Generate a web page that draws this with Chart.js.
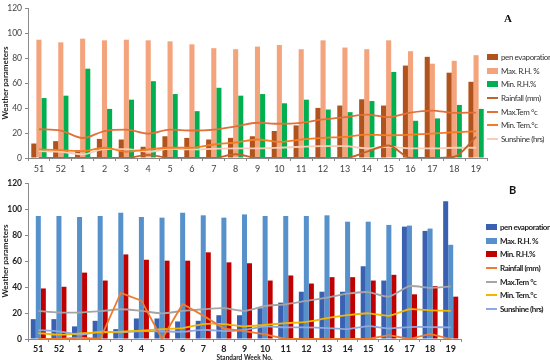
<!DOCTYPE html>
<html>
<head>
<meta charset="utf-8">
<script src="https://cdn.jsdelivr.net/npm/chart.js@4.4.1/dist/chart.umd.min.js"></script>
<style>
  body { margin: 0; background: #fff; width: 550px; height: 363px; position: relative; overflow: hidden; font-family: Lato, "Noto Sans", sans-serif; }
  canvas { position: absolute; left: 0; }
  #chartA { top: 0; }
  #chartB { top: 175px; }
  .tag { position: absolute; font-weight: bold; color: #111; }
  .legend { position: absolute; font-size: 8px; letter-spacing: -0.4px; color: #333; }
  .legend .item { height: 13.7px; display: flex; align-items: center; white-space: nowrap; }
  .legend .sw { display: inline-block; width: 11px; margin-right: 3px; flex: none; }
</style>
</head>
<body>
<canvas id="chartA" width="550" height="175"></canvas>
<canvas id="chartB" width="550" height="188"></canvas>
<div class="tag" style="left:504px; top:12px; font-size:11px; font-family:'Liberation Serif', serif;">A</div>
<div class="tag" style="left:509px; top:183px; font-size:11px;">B</div>
<div class="legend" id="legendA" style="left:487px; top:50px;"></div>
<div class="legend" id="legendB" style="left:486px; top:220px; font-weight:bold; color:#222; letter-spacing:-0.45px;"></div>
<script>
// ========= data =========
const weeks = ["51", "52", "1", "2", "3", "4", "5", "6", "7", "8", "9", "10", "11", "12", "13", "14", "15", "16", "17", "18", "19"];
const seriesNames = ["pen evaporation", "Max. R.H. %", "Min. R.H.%", "Rainfall (mm)", "Max.Tem °c", "Min. Tem.°c", "Sunshine (hrs)"];
const yTicks = [0, 20, 40, 60, 80, 100, 120];

// panel A
const panA     = [11.6, 13.5, 6.3, 15.3, 14.8, 9, 17.4, 16.1, 14.8, 16.1, 17.4, 21.6, 26.1, 40.1, 42, 47, 42, 74, 81, 68.3, 61];
const maxRhA   = [94.7, 92.6, 95.5, 94.2, 94.7, 94.2, 93.4, 91, 87.9, 87.1, 89.2, 90.5, 87.1, 94.2, 88.4, 87.1, 94.2, 85.5, 75.5, 77.8, 82.3];
const minRhA   = [48, 49.9, 71.5, 39.3, 46.7, 61.5, 51.2, 37.5, 56.2, 49.9, 51.2, 43.8, 46.7, 38.8, 36.7, 45.6, 68.9, 29.8, 31.7, 42.5, 39.3];
const rainA    = [0, 0, 0, 0, 0, 2.5, 0, 0, 0, 3, 0, 0, 0, 0, 0, 5, 10, 0, 0, 1, 17];
const maxTemA  = [23, 22, 16, 21.6, 22.7, 19.5, 22.7, 22, 22.7, 25.3, 28.2, 27.4, 28.2, 30.9, 32.7, 34.8, 32.7, 36.4, 38, 36.1, 36.4];
const minTemA  = [6.9, 6.3, 5.5, 8.2, 5, 6.9, 8.2, 8.2, 10.8, 12.4, 14.8, 12.9, 14.8, 16.1, 16.9, 18.7, 18.2, 18.7, 19.5, 20.6, 21.4];
const sunA     = [5.5, 5, 2.9, 7.1, 7.1, 5, 7.4, 6.9, 7.4, 7.7, 7.7, 8.2, 9, 9.5, 9.5, 7.7, 9, 7.7, 7.7, 8.2, 8.2];

// panel B
const panB     = [15.3, 15.3, 9.7, 14, 7.6, 15.8, 15.8, 13.5, 14, 18.3, 18.3, 23.7, 28, 36.4, 36.4, 36.4, 56, 45, 86.5, 83.2, 106];
const maxRhB   = [94.7, 94.7, 93.9, 94.7, 97.2, 93.9, 93.4, 97.2, 95.2, 93.4, 95.9, 94.7, 94.7, 94.7, 95.2, 90.3, 90.3, 87.8, 87.3, 85, 72.5];
const minRhB   = [38.9, 40.2, 51.1, 45, 65.1, 61, 60.3, 60.3, 66.7, 59, 58.3, 45, 48.9, 42.7, 47.6, 47.6, 45, 49.4, 34.4, 40.7, 32.6];
const rainB    = [0, 0, 1, 0, 35.5, 29.5, 0, 27, 18, 8, 6, 3.5, 0, 0, 0, 0, 0, 3, 0, 4, 0];
const maxTemB  = [21.6, 20.4, 20.4, 21.4, 22.9, 21.6, 19.8, 21.6, 22.9, 23.7, 21.6, 25.4, 26.7, 29.3, 31.8, 34.9, 36.1, 32.6, 40.7, 39.4, 40.5];
const minTemB  = [4.6, 3.3, 4.3, 5.1, 5.6, 6.4, 7.6, 8.4, 11.5, 11.5, 9.7, 10.9, 12.2, 13.2, 16, 18.3, 19.8, 17.8, 22.9, 22.1, 21.6];
const sunB     = [6.9, 5.9, 3.3, 5.6, 5.1, 6.1, 5.9, 5.6, 7.1, 6.1, 7, 9.7, 8.9, 8.9, 8.4, 7.6, 9.9, 8.1, 9.2, 9.2, 8.9];

// ========= helpers =========
function barSet(label, data, color) {
  return { type: "bar", label, data, backgroundColor: color, borderWidth: 0, order: 2 };
}
function lineSet(label, data, color, tension, mono) {
  return {
    type: "line", label, data, borderColor: color, backgroundColor: color,
    borderWidth: 1.8, pointRadius: 0, tension,
    cubicInterpolationMode: mono ? "monotone" : "default", order: 1
  };
}

function makeChart(id, datasets, opt) {
  const axisColor = "#8a8a8a";
  return new Chart(document.getElementById(id), {
    data: { labels: weeks, datasets },
    options: {
      responsive: false,
      animation: false,
      layout: { padding: { top: 6, right: opt.right, left: 0, bottom: 0 } },
      datasets: { bar: { categoryPercentage: opt.catPct, barPercentage: 1 } },
      plugins: { legend: { display: false }, tooltip: { enabled: false } },
      scales: {
        x: {
          offset: true,
          grid: { display: true, drawOnChartArea: false, drawTicks: true, tickLength: 3, color: axisColor, offset: true },
          border: { color: axisColor },
          ticks: { color: opt.tickColor, font: { family: "Lato", size: 9, weight: opt.bold ? "bold" : "normal" }, padding: opt.xPad, maxRotation: 0, autoSkip: false },
          title: opt.xTitle ? { display: true, text: opt.xTitle, color: "#222", font: { family: "Lato", size: 6.5, weight: "bold" }, padding: { top: 0, bottom: 1 } } : { display: false },
          afterFit(scale) { scale.height = opt.xHeight; }
        },
        y: {
          min: 0, max: 120,
          afterBuildTicks(scale) { scale.ticks = yTicks.map(v => ({ value: v })); },
          grid: { display: true, drawOnChartArea: false, drawTicks: true, tickLength: 3, color: axisColor },
          border: { color: axisColor },
          ticks: { color: opt.tickColor, font: { family: "Lato", size: 8.5, weight: opt.bold ? "bold" : "normal" }, padding: 3 },
          title: { display: true, text: "Weather parameters", color: "#222", font: { family: "Lato", size: 8, weight: "bold" }, padding: { top: 1, bottom: 0 } },
          afterFit(scale) { scale.width = 28; }
        }
      }
    }
  });
}

function buildLegend(el, chart) {
  chart.data.datasets.forEach(ds => {
    const row = document.createElement("div");
    row.className = "item";
    const sw = document.createElement("span");
    sw.className = "sw";
    if (ds.type === "bar") {
      sw.style.height = "6px";
      sw.style.background = ds.backgroundColor;
    } else {
      sw.style.height = "2px";
      sw.style.background = ds.borderColor;
    }
    row.appendChild(sw);
    row.appendChild(document.createTextNode(ds.label));
    el.appendChild(row);
  });
}

// ========= panel A =========
const chartA = makeChart("chartA", [
  barSet(seriesNames[0], panA, "#b0531d"),
  barSet(seriesNames[1], maxRhA, "#f4a47c"),
  barSet(seriesNames[2], minRhA, "#00b050"),
  lineSet(seriesNames[3], rainA, "#c4622a", 0.4, true),
  lineSet(seriesNames[4], maxTemA, "#e2703a", 0.4, true),
  lineSet(seriesNames[5], minTemA, "#f47d24", 0.4, true),
  lineSet(seriesNames[6], sunA, "#f8cdb8", 0.4, true)
], { right: 63, catPct: 0.7, xHeight: 17, xPad: 3, tickColor: "#444", bold: false });
buildLegend(document.getElementById("legendA"), chartA);

// ========= panel B =========
const chartB = makeChart("chartB", [
  barSet(seriesNames[0], panB, "#3a60b2"),
  barSet(seriesNames[1], maxRhB, "#5791cb"),
  barSet(seriesNames[2], minRhB, "#c00000"),
  lineSet(seriesNames[3], rainB, "#ed7d31", 0, false),
  lineSet(seriesNames[4], maxTemB, "#a5a5a5", 0.2, false),
  lineSet(seriesNames[5], minTemB, "#f2b600", 0.2, false),
  lineSet(seriesNames[6], sunB, "#8ea9de", 0.2, false)
], { right: 89, catPct: 0.73, xHeight: 24, xPad: 2, tickColor: "#222", bold: true, xTitle: "Standard Week No." });
buildLegend(document.getElementById("legendB"), chartB);
</script>
</body>
</html>
